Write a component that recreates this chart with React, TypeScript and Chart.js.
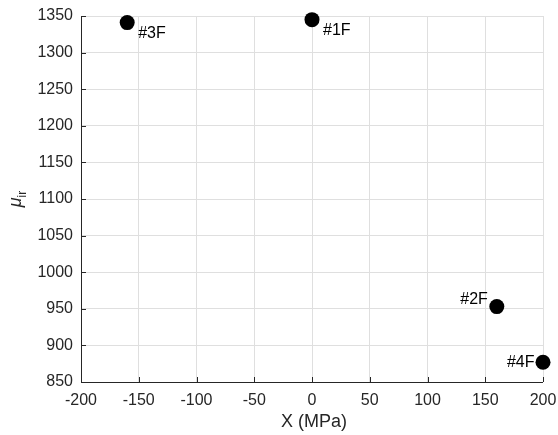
import React, { useEffect, useRef } from "react";
import { Chart, registerables } from "chart.js";

Chart.register(...registerables);

const sampleNames = ["#3F", "#1F", "#2F", "#4F"];
const stressValues = [-160, 0, 160, 200];
const muValues = [1341, 1345, 953, 877];
const labelPlacement = ["se", "se", "nw", "w"];

const xMin = -200;
const xMax = 200;
const xStep = 50;
const yMin = 850;
const yMax = 1350;
const yStep = 50;
const xTitle = "X (MPa)";

const FONT = "'Liberation Sans', Arial, Helvetica, sans-serif";
const AXIS_COLOR = "#262626";

const annotatePlugin = {
  id: "annotate",
  afterDatasetsDraw(chart: any) {
    const ctx = chart.ctx;
    const xs = chart.scales.x;
    const ys = chart.scales.y;
    const area = chart.chartArea;
    ctx.save();
    // axis lines
    ctx.strokeStyle = AXIS_COLOR;
    ctx.lineWidth = 1;
    ctx.beginPath();
    ctx.moveTo(Math.round(area.left) + 0.5, area.top);
    ctx.lineTo(Math.round(area.left) + 0.5, Math.round(area.bottom) + 0.5);
    ctx.lineTo(area.right, Math.round(area.bottom) + 0.5);
    ctx.stroke();
    // inward ticks
    ctx.beginPath();
    for (let v = xMin; v <= xMax; v += xStep) {
      const px = Math.round(xs.getPixelForValue(v)) + 0.5;
      ctx.moveTo(px, area.bottom);
      ctx.lineTo(px, area.bottom - 5);
    }
    for (let v = yMin; v <= yMax; v += yStep) {
      const py = Math.round(ys.getPixelForValue(v)) + 0.5;
      ctx.moveTo(area.left, py);
      ctx.lineTo(area.left + 5, py);
    }
    ctx.stroke();

    // point labels
    ctx.fillStyle = "#000000";
    ctx.font = `16px ${FONT}`;
    ctx.textBaseline = "alphabetic";
    for (let i = 0; i < sampleNames.length; i++) {
      const px = xs.getPixelForValue(stressValues[i]);
      const py = ys.getPixelForValue(muValues[i]);
      const p = labelPlacement[i];
      if (p === "se") {
        ctx.textAlign = "left";
        ctx.fillText(sampleNames[i], px + 11, py + 15);
      } else if (p === "nw") {
        ctx.textAlign = "right";
        ctx.fillText(sampleNames[i], px - 9, py - 2.5);
      } else {
        ctx.textAlign = "right";
        ctx.fillText(sampleNames[i], px - 8.5, py + 5);
      }
    }

    // x title
    ctx.fillStyle = AXIS_COLOR;
    ctx.font = `18px ${FONT}`;
    ctx.textAlign = "center";
    ctx.fillText(xTitle, (area.left + area.right) / 2 + 2, 427);

    // y title: italic mu with subscript "ir"
    const cy = (area.top + area.bottom) / 2;
    ctx.translate(21, cy);
    ctx.rotate(-Math.PI / 2);
    ctx.textAlign = "left";
    ctx.font = `italic 18px ${FONT}`;
    const muW = ctx.measureText("\u03bc").width;
    ctx.font = `12px ${FONT}`;
    const subW = ctx.measureText("ir").width;
    const total = muW + subW;
    ctx.font = `italic 18px ${FONT}`;
    ctx.fillText("\u03bc", -total / 2, 0);
    ctx.font = `12px ${FONT}`;
    ctx.fillText("ir", -total / 2 + muW, 5);
    ctx.restore();
  },
};

export default function App() {
  const ref = useRef<HTMLCanvasElement | null>(null);
  useEffect(() => {
    if (!ref.current) return;
    const data = stressValues.map((x, i) => ({ x, y: muValues[i] }));
    const chart = new Chart(ref.current, {
      type: "scatter",
      data: {
        datasets: [
          {
            data,
            pointRadius: 7.5,
            pointHoverRadius: 7.5,
            pointBackgroundColor: "#000000",
            pointBorderColor: "#000000",
            pointBorderWidth: 0,
            clip: false as any,
          },
        ],
      },
      options: {
        responsive: false,
        animation: false,
        events: [],
        layout: { padding: { top: 16, right: 15, left: 0, bottom: 0 } },
        plugins: {
          legend: { display: false },
          tooltip: { enabled: false },
        },
        scales: {
          x: {
            type: "linear",
            min: xMin,
            max: xMax,
            afterFit: (s: any) => {
              s.height = 53;
              s.paddingLeft = 0;
              s.paddingRight = 0;
            },
            ticks: {
              stepSize: xStep,
              color: AXIS_COLOR,
              font: { family: FONT, size: 16 },
              padding: 9,
              maxRotation: 0,
              autoSkip: false,
              callback: (v: any) => String(v),
            },
            grid: { color: "#dfdfdf", drawTicks: false },
            border: { display: false },
          },
          y: {
            type: "linear",
            min: yMin,
            max: yMax,
            afterFit: (s: any) => {
              s.width = 81;
              s.paddingTop = 0;
              s.paddingBottom = 0;
            },
            ticks: {
              stepSize: yStep,
              color: AXIS_COLOR,
              font: { family: FONT, size: 16 },
              padding: 8,
              autoSkip: false,
              callback: (v: any) => String(v),
            },
            grid: { color: "#dfdfdf", drawTicks: false },
            border: { display: false },
          },
        },
      },
      plugins: [annotatePlugin],
    });
    return () => chart.destroy();
  }, []);
  return (
    <div style={{ position: "absolute", left: 0, top: 0, width: 558, height: 435, background: "#ffffff" }}>
      <canvas ref={ref} width={558} height={435} />
    </div>
  );
}
